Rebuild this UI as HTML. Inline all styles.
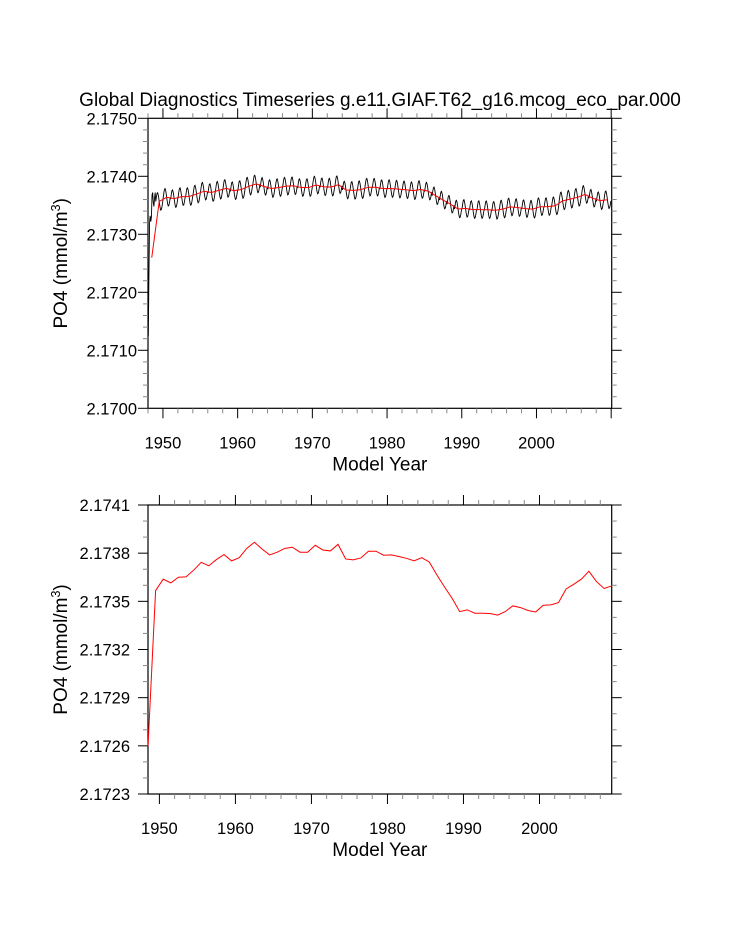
<!DOCTYPE html>
<html><head><meta charset="utf-8"><style>
html,body{margin:0;padding:0;background:#fff;}
svg{display:block;font-family:"Liberation Sans",sans-serif;}
</style></head><body>
<svg id="chart" width="733" height="945" viewBox="0 0 733 945">
<text x="380" y="106" font-size="19" text-anchor="middle">Global Diagnostics Timeseries g.e11.GIAF.T62_g16.mcog_eco_par.000</text>
<g id="topPanel"></g>
<g id="botPanel"></g>
</svg>
<script>
// Annual mean PO4 values, years 1948..2009
const years = [];
for (let y = 1948; y <= 2009; y++) years.push(y);
const annual = [2.172597,2.173567,2.173638,2.173615,2.173650,2.173652,2.173694,2.173743,2.173721,2.173760,
2.173791,2.173752,2.173772,2.173830,2.173868,2.173826,2.173789,2.173806,2.173830,2.173837,
2.173806,2.173806,2.173849,2.173820,2.173814,2.173855,2.173764,2.173758,2.173770,2.173812,
2.173812,2.173787,2.173789,2.173779,2.173768,2.173752,2.173772,2.173745,2.173665,2.173590,
2.173519,2.173436,2.173447,2.173426,2.173426,2.173424,2.173414,2.173436,2.173472,2.173461,
2.173443,2.173434,2.173476,2.173478,2.173492,2.173577,2.173606,2.173638,2.173687,2.173623,
2.173580,2.173596];
// first-year monthly values (spin-up) and seasonal anomaly for later years
const firstYearMonthly = [2.17125,2.17230,2.17320,2.17332,2.17322,2.17330,2.17368,2.17372,2.17355,2.17348,2.17362,2.17372];
const seasonal = [0.00000,0.00008,0.00014,0.00015,0.00011,0.00004,-0.00004,-0.00011,-0.00015,-0.00014,-0.00009,-0.00002];
const topYTicks = ["2.1700","2.1710","2.1720","2.1730","2.1740","2.1750"];
const botYTicks = ["2.1723","2.1726","2.1729","2.1732","2.1735","2.1738","2.1741"];
const xTickYears = [1950,1960,1970,1980,1990,2000];

const NS="http://www.w3.org/2000/svg";
function mk(parent,tag,attrs){const e=document.createElementNS(NS,tag);for(const k in attrs)e.setAttribute(k,attrs[k]);parent.appendChild(e);return e;}

function panel(g, P){
  const X=v=>P.x0+(v-P.xmin)/(P.xmax-P.xmin)*(P.x1-P.x0);
  const Y=v=>P.y1-(v-P.ymin)/(P.ymax-P.ymin)*(P.y1-P.y0);
  const fr=mk(g,'rect',{x:P.x0,y:P.y0,width:P.x1-P.x0,height:P.y1-P.y0,fill:'none',stroke:'#000','stroke-width':1.2});
  
  
  for(let yr=1948; yr<=2010; yr+=2){
    const x=X(yr); if(x<P.x0-0.1||x>P.x1+0.1) continue;
    const major=yr%10===0, L=major?10:5;
    const t1=mk(g,'line',{x1:x,x2:x,y1:P.y1,y2:P.y1+L,stroke:major?'#000':'#888','stroke-width':1});
    
    
    const t2=mk(g,'line',{x1:x,x2:x,y1:P.y0,y2:P.y0-L,stroke:major?'#000':'#888','stroke-width':1});
    
    
  }
  xTickYears.forEach(yr=>{
    const t=mk(g,'text',{x:X(yr),y:P.y1+40,'font-size':16.5,'text-anchor':'middle'});
    t.textContent=yr;
    
    
  });
  const nMinor=P.minorPer;
  const step=(P.ymax-P.ymin)/(P.yLabels.length-1);
  for(let i=0;i<(P.yLabels.length-1)*nMinor+1;i++){
    const v=P.ymin+i*step/nMinor, y=Y(v), major=i%nMinor===0, L=major?10:5;
    const a=mk(g,'line',{x1:P.x0,x2:P.x0-L,y1:y,y2:y,stroke:major?'#000':'#888','stroke-width':1});
    
    
    const b=mk(g,'line',{x1:P.x1,x2:P.x1+L,y1:y,y2:y,stroke:major?'#000':'#888','stroke-width':1});
    
    
  }
  P.yLabels.forEach((s,i)=>{
    const t=mk(g,'text',{x:P.x0-P.labGap,y:Y(P.ymin+i*step)+6,'font-size':16.5,'text-anchor':'end'});
    t.textContent=s;
    
    
  });
  const xt=mk(g,'text',{x:(P.x0+P.x1)/2,y:P.y1+62,'font-size':19,'text-anchor':'middle'});
  xt.textContent='Model Year';
  
  
  const cy=(P.y0+P.y1)/2;
  const yt=mk(g,'text',{x:67,y:cy,'font-size':19,'text-anchor':'middle',transform:`rotate(-90 67 ${cy})`});
  yt.innerHTML='PO4 (mmol/m<tspan dy="-7" font-size="12.5">3</tspan><tspan dy="7">)</tspan>';
  
  
  return {X,Y};
}

const topG=document.getElementById('topPanel');
const TA=panel(topG,{x0:148,x1:611.7,y0:118.3,y1:408.3,xmin:1948,xmax:2010.07,ymin:2.1700,ymax:2.1750,yLabels:topYTicks,minorPer:5,labGap:11});
let pts=[];
years.forEach((yr,i)=>{
  for(let m=0;m<12;m++){
    const v = i===0 ? firstYearMonthly[m] : annual[i]+seasonal[m];
    pts.push(TA.X(yr+(m+0.5)/12).toFixed(2)+','+TA.Y(v).toFixed(2));
  }
});
const ml=mk(topG,'polyline',{points:pts.join(' '),fill:'none',stroke:'#000','stroke-width':0.9});


const ra=years.map((yr,i)=>TA.X(yr+0.5).toFixed(2)+','+TA.Y(annual[i]).toFixed(2)).join(' ');
const rl=mk(topG,'polyline',{points:ra,fill:'none',stroke:'#f00','stroke-width':1});



const botG=document.getElementById('botPanel');
const BA=panel(botG,{x0:148,x1:611.7,y0:505,y1:794,xmin:1948.5,xmax:2009.5,ymin:2.1723,ymax:2.1741,yLabels:botYTicks,minorPer:3,labGap:18});
const rb=years.map((yr,i)=>BA.X(yr+0.5).toFixed(2)+','+BA.Y(annual[i]).toFixed(2)).join(' ');
const bl=mk(botG,'polyline',{points:rb,fill:'none',stroke:'#f00','stroke-width':1});


</script>
</body></html>
